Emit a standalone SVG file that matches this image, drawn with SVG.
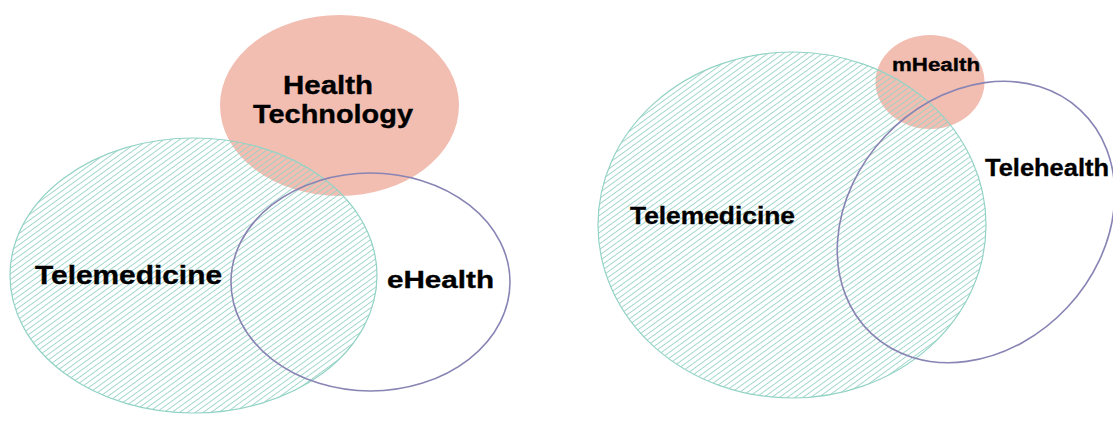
<svg xmlns="http://www.w3.org/2000/svg" width="1113" height="427" viewBox="0 0 1113 427">
  <defs>
    <!-- diagonal hatch used by the Telemedicine sets -->
    <pattern id="hatch" patternUnits="userSpaceOnUse" width="8" height="4.6" patternTransform="rotate(-36)">
      <line x1="-1" y1="2.3" x2="9" y2="2.3" stroke="#96d2c5" stroke-width="0.9"/>
    </pattern>
    <style>
      .tech { fill: #f2beb2; stroke: none; }
      .tele { fill: url(#hatch); stroke: #93d3c6; stroke-width: 1.2; }
      .ring { fill: none; stroke: #8884b4; stroke-width: 1.6; }
      .lbl { font-family: "Liberation Sans", Arial, sans-serif; font-weight: bold; fill: #000; stroke: #000; stroke-width: 0.35; }
    </style>
  </defs>

  <rect x="0" y="0" width="1113" height="427" fill="#ffffff"/>

  <!-- Left diagram: Health Technology / Telemedicine / eHealth -->
  <g id="health-technology">
    <ellipse class="tech" cx="339.5" cy="105.5" rx="119.5" ry="90.5"/>
  </g>
  <g id="telemedicine-left">
    <ellipse class="tele" cx="193.5" cy="275.5" rx="183.5" ry="137.5"/>
  </g>
  <g id="ehealth">
    <ellipse class="ring" cx="370.5" cy="282" rx="139.5" ry="109"/>
  </g>
  <g id="left-labels">
    <text class="lbl" x="283" y="94" font-size="25" textLength="90" lengthAdjust="spacingAndGlyphs">Health</text>
    <text class="lbl" x="253" y="123" font-size="25" textLength="160" lengthAdjust="spacingAndGlyphs">Technology</text>
    <text class="lbl" x="35" y="284" font-size="25" textLength="187" lengthAdjust="spacingAndGlyphs">Telemedicine</text>
    <text class="lbl" x="387" y="288" font-size="24" textLength="107" lengthAdjust="spacingAndGlyphs">eHealth</text>
  </g>

  <!-- Right diagram: mHealth / Telemedicine / Telehealth -->
  <g id="mhealth">
    <ellipse class="tech" cx="930" cy="82" rx="54.5" ry="47"/>
  </g>
  <g id="telemedicine-right">
    <ellipse class="tele" cx="792" cy="225" rx="194" ry="173"/>
  </g>
  <g id="telehealth">
    <ellipse class="ring" cx="0" cy="0" rx="153" ry="125" transform="translate(976 222) rotate(-47)"/>
  </g>
  <g id="right-labels">
    <text class="lbl" x="892" y="71" font-size="18" textLength="88" lengthAdjust="spacingAndGlyphs">mHealth</text>
    <text class="lbl" x="630" y="224" font-size="24" textLength="165" lengthAdjust="spacingAndGlyphs">Telemedicine</text>
    <text class="lbl" x="985" y="176" font-size="23" textLength="124" lengthAdjust="spacingAndGlyphs">Telehealth</text>
  </g>
</svg>
